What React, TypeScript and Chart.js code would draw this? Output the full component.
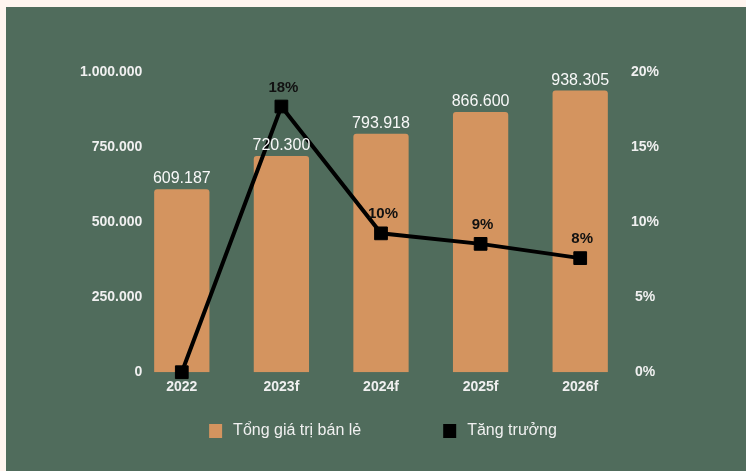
import React, { useEffect, useRef } from "react";
import { Chart, registerables } from "chart.js";

Chart.register(...registerables);

const categories = ["2022", "2023f", "2024f", "2025f", "2026f"];
const retailValues = [609187, 720300, 793918, 866600, 938305];
const growthValues = [0, 17.7, 9.25, 8.55, 7.6];
const growthLabels = ["", "18%", "10%", "9%", "8%"];
const leftTicks = [0, 250000, 500000, 750000, 1000000];
const rightTicks = [0, 5, 10, 15, 20];
const seriesNames = ["Tổng giá trị bán lẻ", "Tăng trưởng"];

const FONT = "'Liberation Sans', Arial, sans-serif";
const BAR_COLOR = "#d4945f";
const TEXT_LIGHT = "#f0f0f0";

function fmt(n: number): string {
  return Math.round(n).toString().replace(/\B(?=(\d{3})+(?!\d))/g, ".");
}

const labelsPlugin = {
  id: "customLabels",
  afterDatasetsDraw(chart: any) {
    const ctx = chart.ctx;
    ctx.save();
    const barMeta = chart.getDatasetMeta(0);
    ctx.font = `16px ${FONT}`;
    ctx.fillStyle = "#f8f8f8";
    ctx.textAlign = "center";
    ctx.textBaseline = "alphabetic";
    barMeta.data.forEach((el: any, i: number) => {
      ctx.fillText(fmt(retailValues[i]), el.x, el.y - 6);
    });
    const lineMeta = chart.getDatasetMeta(1);
    ctx.font = `bold 15px ${FONT}`;
    ctx.fillStyle = "#111111";
    lineMeta.data.forEach((el: any, i: number) => {
      const t = growthLabels[i];
      if (t) ctx.fillText(t, el.x + 2, el.y - 15);
    });
    ctx.restore();
  },
  afterDraw(chart: any) {
    const ctx = chart.ctx;
    const ca = chart.chartArea;
    ctx.save();
    ctx.font = `16px ${FONT}`;
    const boxW = 13;
    const boxH = 14;
    const gap = 11;
    const itemGap = 82;
    const colors = [BAR_COLOR, "#000000"];
    const widths = seriesNames.map((s) => ctx.measureText(s).width);
    const total = widths.reduce((a, w) => a + boxW + gap + w, 0) + itemGap * (seriesNames.length - 1);
    let x = (ca.left + ca.right) / 2 + 2 - total / 2;
    const boxTop = 417;
    ctx.textBaseline = "middle";
    ctx.textAlign = "left";
    seriesNames.forEach((s, i) => {
      ctx.fillStyle = colors[i];
      ctx.fillRect(x, boxTop, boxW, boxH);
      ctx.fillStyle = TEXT_LIGHT;
      ctx.fillText(s, x + boxW + gap, boxTop + boxH / 2);
      x += boxW + gap + widths[i] + itemGap;
    });
    ctx.restore();
  },
};

export default function App() {
  const ref = useRef<HTMLCanvasElement | null>(null);

  useEffect(() => {
    document.body.style.margin = "0";
    document.body.style.background = "#fff5ef";
    if (!ref.current) return;
    const chart = new Chart(ref.current, {
      type: "bar",
      data: {
        labels: categories,
        datasets: [
          {
            type: "bar",
            label: seriesNames[0],
            data: retailValues,
            backgroundColor: BAR_COLOR,
            borderRadius: 3,
            barPercentage: 0.555,
            categoryPercentage: 1,
            yAxisID: "y",
            order: 2,
          },
          {
            type: "line",
            label: seriesNames[1],
            data: growthValues,
            borderColor: "#000000",
            backgroundColor: "#000000",
            borderWidth: 4,
            pointStyle: "rect",
            pointRadius: 9,
            pointBackgroundColor: "#000000",
            pointBorderColor: "#000000",
            pointBorderWidth: 1,
            tension: 0,
            clip: false,
            yAxisID: "y1",
            order: 1,
          } as any,
        ],
      },
      options: {
        animation: false,
        responsive: false,
        maintainAspectRatio: false,
        layout: { padding: { top: 65, bottom: 68, left: 0, right: 0 } },
        plugins: {
          legend: { display: false },
          tooltip: { enabled: false },
          title: { display: false },
        },
        scales: {
          x: {
            grid: { display: false, drawTicks: false },
            border: { display: false },
            ticks: {
              color: TEXT_LIGHT,
              font: { family: FONT, size: 14, weight: "bold" },
              padding: 7,
            },
          },
          y: {
            position: "left",
            min: 0,
            max: 1000000,
            grid: { display: false, drawTicks: false },
            border: { display: false },
            afterBuildTicks: (s: any) => {
              s.ticks = leftTicks.map((v) => ({ value: v }));
            },
            afterFit: (s: any) => {
              s.width = 126;
            },
            ticks: {
              color: TEXT_LIGHT,
              font: { family: FONT, size: 14, weight: "bold" },
              mirror: true,
              crossAlign: "far",
              padding: -52,
              callback: (v: any) => fmt(Number(v)),
            },
          },
          y1: {
            position: "right",
            min: 0,
            max: 20,
            grid: { display: false, drawTicks: false },
            border: { display: false },
            afterBuildTicks: (s: any) => {
              s.ticks = rightTicks.map((v) => ({ value: v }));
            },
            afterFit: (s: any) => {
              s.width = 116;
            },
            ticks: {
              color: TEXT_LIGHT,
              font: { family: FONT, size: 14, weight: "bold" },
              padding: 1,
              crossAlign: "center",
              callback: (v: any) => `${v}%`,
            },
          },
        },
      } as any,
      plugins: [labelsPlugin],
    });
    return () => chart.destroy();
  }, []);

  return (
    <div
      style={{
        position: "absolute",
        left: 6,
        top: 7,
        width: 740,
        height: 464,
        background: "#506c5c",
      }}
    >
      <canvas ref={ref} width={740} height={464} style={{ display: "block", width: 740, height: 464 }} />
    </div>
  );
}
